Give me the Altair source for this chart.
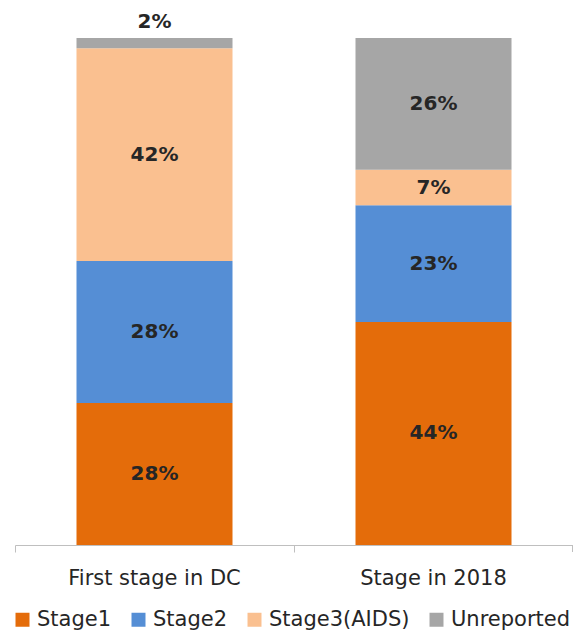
import altair as alt
import pandas as pd

groups = ["First stage in DC", "Stage in 2018"]
stages = ["Stage1", "Stage2", "Stage3(AIDS)", "Unreported"]
first_dc = [28, 28, 42, 2]
in_2018 = [44, 23, 7, 26]
colors = ["#E46C0A", "#558ED5", "#FAC090", "#A6A6A6"]

rows = []
for g, vals in zip(groups, [first_dc, in_2018]):
    for i, (s, v) in enumerate(zip(stages, vals)):
        rows.append({"group": g, "stage": s, "value": v, "idx": i, "label": f"{v}%"})
df = pd.DataFrame(rows)

FONT = "DejaVu Sans, sans-serif"

base = alt.Chart(df).transform_stack(
    stack="value", as_=["y0", "y1"], groupby=["group"], sort=[alt.SortField("idx", order="ascending")]
).transform_calculate(
    ymid="datum.value < 5 ? datum.y1 + 3.2 : (datum.y0 + datum.y1) / 2"
)

xenc = alt.X("group:N", sort=groups, title=None,
             scale=alt.Scale(paddingInner=0, paddingOuter=0),
             axis=alt.Axis(labelAngle=0, labelFont=FONT, labelFontSize=21, labelColor="#262626",
                           domainColor="#BFBFBF", tickColor="#BFBFBF", tickSize=7, bandPosition=0,
                           labelPadding=15, domainWidth=1.2))
yscale = alt.Scale(domain=[0, 100], nice=False)

bars = base.mark_bar(size=156).encode(
    x=xenc,
    y=alt.Y("y0:Q", scale=yscale, axis=None),
    y2="y1:Q",
    color=alt.Color("stage:N", sort=stages,
                    scale=alt.Scale(domain=stages, range=colors),
                    legend=alt.Legend(title=None, orient="none", direction="horizontal",
                                      legendX=-3, legendY=571, symbolType="square",
                                      symbolSize=196, symbolStrokeWidth=0, labelFont=FONT,
                                      labelFontSize=21, labelColor="#262626", columnPadding=16,
                                      labelOffset=4)),
)

labels = base.mark_text(font=FONT, fontSize=20, fontWeight="bold", color="#262626").encode(
    x=alt.X("group:N", sort=groups),
    y=alt.Y("ymid:Q", scale=yscale),
    text="label:N",
)

endtick = alt.Chart(df).mark_rule(color="#BFBFBF").encode(
    x=alt.value(558), y=alt.value(507), y2=alt.value(514)
)

chart = alt.layer(bars, labels, endtick).properties(
    width=558, height=507, padding={"left": 7, "top": 30, "right": 0, "bottom": 85},
    autosize=alt.AutoSizeParams(type="none"),
).configure_view(stroke=None)

chart.save("out.html", embed_options={"renderer": "svg", "actions": False})
